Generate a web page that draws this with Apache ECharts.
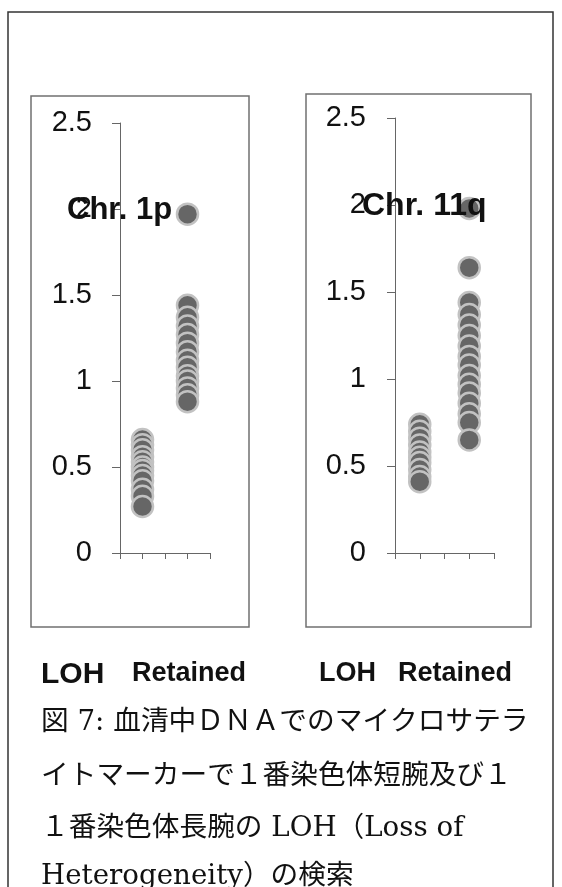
<!DOCTYPE html>
<html>
<head>
<meta charset="utf-8">
<script src="https://cdn.jsdelivr.net/npm/echarts@6/dist/echarts.min.js"></script>
<style>
  html, body { margin: 0; padding: 0; background: #ffffff; }
  #chart { width: 562px; height: 887px; }
</style>
</head>
<body>
<div id="chart"></div>
<script>
// Marker ratios per group, chromosome 1p panel
const chr1pLOH = [0.66, 0.63, 0.60, 0.56, 0.53, 0.50, 0.48, 0.45, 0.42, 0.37, 0.33, 0.27];
const chr1pRetained = [1.97, 1.44, 1.37, 1.32, 1.27, 1.22, 1.17, 1.12, 1.08, 1.03, 1.00, 0.96, 0.92, 0.88];

// Marker ratios per group, chromosome 11q panel
const chr11qLOH = [0.74, 0.70, 0.66, 0.62, 0.58, 0.55, 0.52, 0.48, 0.44, 0.41];
const chr11qRetained = [1.98, 1.64, 1.44, 1.37, 1.31, 1.25, 1.19, 1.13, 1.08, 1.02, 0.97, 0.92, 0.86, 0.80, 0.75, 0.65];

// Column positions on the x scale
const groupX = { LOH: 1, Retained: 3 };
const yTicks = [0, 0.5, 1, 1.5, 2, 2.5];
const panelTitles = ['Chr. 1p', 'Chr. 11q'];
const groupLabels = ['LOH', 'Retained'];
const captionLines = [
  '図 7: 血清中ＤＮＡでのマイクロサテラ',
  'イトマーカーで１番染色体短腕及び１',
  '１番染色体長腕の LOH（Loss of',
  'Heterogeneity）の検索'
];

const chart = echarts.init(document.getElementById('chart'), null, { renderer: 'canvas' });

const axisColor = '#666666';
const sansFont = "'Liberation Sans', Arial, sans-serif";
const captionFont = "'DejaVu Serif', 'Noto Sans CJK JP', serif";

function toPoints(values, x) {
  return values.map(v => [x, v]);
}

function xAxisFor(gridIndex) {
  return {
    gridIndex, type: 'value', min: 0, max: 4, interval: 1,
    axisLine: { show: true, onZero: false, lineStyle: { color: axisColor, width: 1 } },
    axisTick: { show: true, length: 6, inside: false, lineStyle: { color: axisColor } },
    axisLabel: { show: false },
    splitLine: { show: false }
  };
}

function yAxisFor(gridIndex, margin) {
  return {
    gridIndex, type: 'value', min: yTicks[0], max: yTicks[yTicks.length - 1], interval: 0.5,
    axisLine: { show: true, lineStyle: { color: axisColor, width: 1 } },
    axisTick: { show: true, length: 8, lineStyle: { color: axisColor } },
    axisLabel: { show: true, margin, fontSize: 29, color: '#111111', fontFamily: sansFont },
    splitLine: { show: false }
  };
}

function dotSeries(values, x, idx) {
  return {
    type: 'scatter',
    xAxisIndex: idx, yAxisIndex: idx,
    data: toPoints(values, x),
    symbol: 'circle',
    symbolSize: 21,
    itemStyle: { color: '#666666', borderColor: '#c2c2c2', borderWidth: 2.5, opacity: 1 },
    emphasis: { disabled: true },
    z: 3
  };
}

function label(text, x, y, size, opts) {
  return Object.assign({
    type: 'text', x, y, z: 100,
    style: {
      text, fontSize: size, fontFamily: sansFont, fontWeight: 'bold',
      fill: '#111111', verticalAlign: 'middle', align: 'left'
    }
  }, opts || {});
}

const graphics = [
  // outer frame (open at the bottom)
  { type: 'polyline', z: 1, shape: { points: [[8, 887], [8, 12], [553, 12], [553, 887]] },
    style: { stroke: '#333333', lineWidth: 1.5, fill: null } },
  // panel boxes
  { type: 'rect', z: 1, shape: { x: 31, y: 96, width: 218, height: 531 },
    style: { stroke: '#707070', lineWidth: 1.5, fill: null } },
  { type: 'rect', z: 1, shape: { x: 306, y: 94, width: 225, height: 533 },
    style: { stroke: '#707070', lineWidth: 1.5, fill: null } },
  // panel titles
  label(panelTitles[0], 67, 210, 31),
  label(panelTitles[1], 362, 206, 32),
  // group labels under the panels
  label(groupLabels[0], 41, 675, 30),
  label(groupLabels[1], 132, 674, 27),
  label(groupLabels[0], 319, 674, 27),
  label(groupLabels[1], 398, 674, 27)
];

const captionY = [723, 777, 829, 877];
captionLines.forEach((line, i) => {
  graphics.push({
    type: 'text', x: 41, y: captionY[i], z: 100,
    style: { text: line, fontSize: 27.7, fontFamily: captionFont, fill: '#111111',
             verticalAlign: 'middle', align: 'left' }
  });
});

chart.setOption({
  backgroundColor: '#ffffff',
  animation: false,
  grid: [
    { left: 120, top: 123, width: 90, height: 430 },
    { left: 395, top: 118, width: 99, height: 435 }
  ],
  xAxis: [xAxisFor(0), xAxisFor(1)],
  yAxis: [yAxisFor(0, 28), yAxisFor(1, 29)],
  series: [
    dotSeries(chr1pLOH, groupX.LOH, 0),
    dotSeries(chr1pRetained, groupX.Retained, 0),
    dotSeries(chr11qLOH, groupX.LOH, 1),
    dotSeries(chr11qRetained, groupX.Retained, 1)
  ],
  graphic: graphics
});
</script>
</body>
</html>
